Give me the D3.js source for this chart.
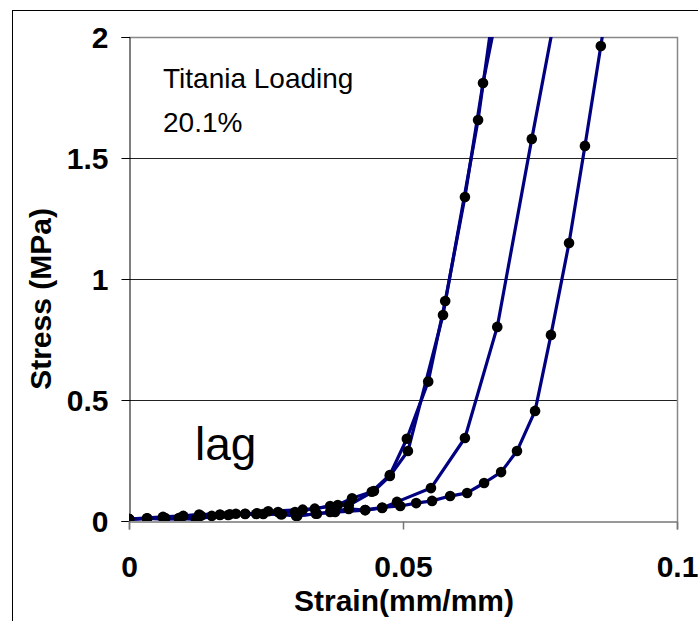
<!DOCTYPE html>
<html>
<head>
<meta charset="utf-8">
<script src="https://cdn.jsdelivr.net/npm/d3@7"></script>
<style>
  html, body { margin: 0; padding: 0; background: #fff; }
  svg { display: block; }
  text { font-family: "Liberation Sans", Arial, sans-serif; }
</style>
</head>
<body>
<svg id="chart" width="698" height="621"></svg>
<script>
// Stress-strain cycles, strain (mm/mm) vs stress (MPa)
const cycleA = [
  [0, 0.008], [0.0062, 0.017], [0.0099, 0.021], [0.0128, 0.027], [0.0166, 0.027],
  [0.0195, 0.030], [0.0234, 0.032], [0.0254, 0.040], [0.0317, 0.047], [0.0339, 0.051],
  [0.0381, 0.066], [0.0407, 0.094], [0.0443, 0.121], [0.0476, 0.190], [0.0507, 0.340],
  [0.0546, 0.576], [0.0577, 0.909], [0.0613, 1.339], [0.0646, 1.810], [0.0677, 2.16]
];
const cycleB = [
  [0, 0.008], [0.0033, 0.011], [0.0066, 0.012], [0.0091, 0.010], [0.0131, 0.022],
  [0.0151, 0.021], [0.0184, 0.028], [0.0212, 0.030], [0.0245, 0.029], [0.0272, 0.037],
  [0.0303, 0.037], [0.0367, 0.062], [0.0401, 0.065], [0.0447, 0.124], [0.0476, 0.186],
  [0.0509, 0.289], [0.0573, 0.851], [0.0637, 1.657], [0.0668, 2.16]
];
const cycleC = [
  [0, 0.008], [0.0033, 0.011], [0.0064, 0.008], [0.0124, 0.010], [0.0181, 0.025],
  [0.0232, 0.029], [0.0279, 0.028], [0.0307, 0.021], [0.0343, 0.030], [0.0367, 0.037],
  [0.0401, 0.050], [0.0431, 0.045], [0.0462, 0.054], [0.0489, 0.079], [0.0551, 0.136],
  [0.0613, 0.343], [0.0672, 0.802], [0.0735, 1.579], [0.0786, 2.19]
];
const cycleD = [
  [0, 0.008], [0.0062, 0.014], [0.0091, 0.012], [0.0122, 0.008], [0.0166, 0.025],
  [0.0212, 0.029], [0.0277, 0.028], [0.0305, 0.021], [0.0341, 0.030], [0.0376, 0.037],
  [0.0431, 0.045], [0.0462, 0.056], [0.0495, 0.062], [0.0524, 0.074], [0.0553, 0.083],
  [0.0586, 0.103], [0.0617, 0.116], [0.0648, 0.157], [0.0679, 0.202], [0.0708, 0.289],
  [0.0741, 0.455], [0.0770, 0.769], [0.0803, 1.149], [0.0832, 1.550], [0.0861, 1.963],
  [0.0870, 2.095]
];
const seriesList = [cycleA, cycleB, cycleC, cycleD];

const xTicks = [0, 0.05, 0.1];
const xTickLabels = ["0", "0.05", "0.1"];
const yTicks = [0, 0.5, 1, 1.5, 2];
const yTickLabels = ["0", "0.5", "1", "1.5", "2"];

const svg = d3.select("#chart");
const plot = { left: 129, right: 677, top: 37, bottom: 521 };
const labelFont = 30;

const x = d3.scaleLinear().domain([0, 0.1]).range([plot.left, plot.right]);
const y = d3.scaleLinear().domain([0, 2]).range([plot.bottom, plot.top]);

// outer chart frame
svg.append("rect")
  .attr("x", 12.5).attr("y", 10.5).attr("width", 720).attr("height", 720)
  .attr("fill", "#fff").attr("stroke", "#000").attr("stroke-width", 1);

svg.append("defs").append("clipPath").attr("id", "plotClip")
  .append("rect")
  .attr("x", plot.left).attr("y", plot.top)
  .attr("width", plot.right - plot.left).attr("height", plot.bottom - plot.top);

// horizontal gridlines
svg.append("g").selectAll("line")
  .data(yTicks.filter(v => v > 0 && v < 2))
  .join("line")
  .attr("x1", plot.left).attr("x2", plot.right)
  .attr("y1", d => Math.round(y(d)) + 0.5).attr("y2", d => Math.round(y(d)) + 0.5)
  .attr("stroke", "#222").attr("stroke-width", 1);

// plot area border (top, right)
svg.append("path")
  .attr("d", `M${plot.left},${plot.top + 0.5}H${plot.right + 0.5}V${plot.bottom}`)
  .attr("fill", "none").attr("stroke", "#888").attr("stroke-width", 1.5);

// y axis
const yAxis = svg.append("g")
  .attr("transform", `translate(${plot.left + 0.5},0)`)
  .call(d3.axisLeft(y).tickValues(yTicks).tickSize(8).tickFormat((d, i) => yTickLabels[i]));
yAxis.select(".domain").attr("stroke", "#000");
yAxis.selectAll(".tick line").attr("stroke", "#000");
yAxis.selectAll(".tick text")
  .attr("x", -21).attr("dy", "0.36em")
  .attr("font-size", labelFont).attr("font-weight", "bold").attr("fill", "#000")
  .attr("font-family", "Liberation Sans, Arial, sans-serif");

// x axis
const xAxis = svg.append("g")
  .attr("transform", `translate(0,${plot.bottom + 0.5})`)
  .call(d3.axisBottom(x).tickValues(xTicks).tickSize(8).tickFormat((d, i) => xTickLabels[i]));
xAxis.select(".domain").attr("stroke", "#777").attr("stroke-width", 1.5);
xAxis.selectAll(".tick line").attr("stroke", "#777").attr("stroke-width", 1.5);
xAxis.selectAll(".tick text")
  .attr("y", 45).attr("dy", "0.36em")
  .attr("font-size", labelFont).attr("font-weight", "bold").attr("fill", "#000")
  .attr("font-family", "Liberation Sans, Arial, sans-serif");

// axis titles
svg.append("text")
  .attr("x", 404).attr("y", 611)
  .attr("text-anchor", "middle")
  .attr("font-size", labelFont).attr("font-weight", "bold")
  .text("Strain(mm/mm)");

svg.append("text")
  .attr("transform", "translate(51,299) rotate(-90)")
  .attr("text-anchor", "middle")
  .attr("font-size", labelFont).attr("font-weight", "bold")
  .text("Stress (MPa)");

// curves and markers
const line = d3.line().x(d => x(d[0])).y(d => y(d[1]));
const dataLayer = svg.append("g").attr("clip-path", "url(#plotClip)");

dataLayer.selectAll("path.cycle")
  .data(seriesList)
  .join("path")
  .attr("class", "cycle")
  .attr("d", line)
  .attr("fill", "none")
  .attr("stroke", "#000080")
  .attr("stroke-width", 3.2)
  .attr("stroke-linejoin", "round");

seriesList.forEach(s => {
  dataLayer.append("g").selectAll("circle")
    .data(s)
    .join("circle")
    .attr("cx", d => x(d[0]))
    .attr("cy", d => y(d[1]))
    .attr("r", 5.3)
    .attr("fill", "#000");
});

// annotations
svg.append("text").attr("x", 163).attr("y", 88)
  .attr("font-size", 28).text("Titania Loading");
svg.append("text").attr("x", 163).attr("y", 132)
  .attr("font-size", 28).text("20.1%");
svg.append("text").attr("x", 195).attr("y", 460)
  .attr("font-size", 46).text("lag");
</script>
</body>
</html>
